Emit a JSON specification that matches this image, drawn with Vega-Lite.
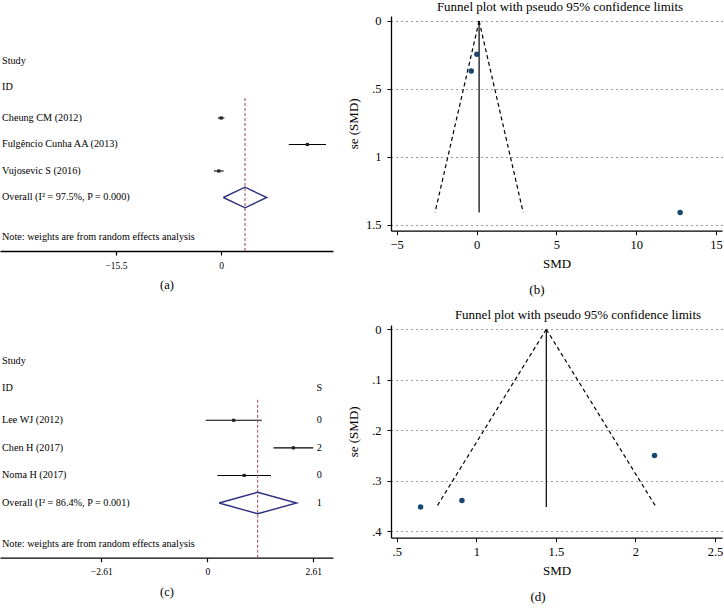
{
  "$schema": "https://vega.github.io/schema/vega-lite/v6.json",
  "background": "white",
  "padding": {"left": 0, "top": 0, "right": 0, "bottom": 0},
  "config": {
    "view": {"stroke": null},
    "font": "Liberation Serif",
    "axis": {"labelColor": "#000", "titleColor": "#000", "domainColor": "#000", "tickColor": "#000", "titleFontWeight": "normal", "labelFlush": false, "labelOverlap": false, "grid": false}
  },
  "datasets": {
    "forestA": [
      {"study": "Cheung CM (2012)", "row": 1, "es": 0.02, "lo": -0.46, "hi": 0.5, "se": 0.245},
      {"study": "Fulgêncio Cunha AA (2013)", "row": 2, "es": 12.75, "lo": 10.0, "hi": 15.5, "se": 1.41},
      {"study": "Vujosevic S (2016)", "row": 3, "es": -0.33, "lo": -1.05, "hi": 0.39, "se": 0.368},
      {"study": "Overall  (I² = 97.5%, P = 0.000)", "row": 4, "es": 3.54, "lo": 0.34, "hi": 6.75}
    ],
    "headA": [
      {"label": "Study", "row": -1.15},
      {"label": "ID", "row": -0.17},
      {"label": "Note: weights are from random effects analysis", "row": 5.5}
    ],
    "diamondA": [
      {"x": 0.34, "row": 4, "k": 0},
      {"x": 3.54, "row": 3.61, "k": 1},
      {"x": 6.75, "row": 4, "k": 2},
      {"x": 3.54, "row": 4.39, "k": 3},
      {"x": 0.34, "row": 4, "k": 4}
    ],
    "funnelB": [
      {"side": "lower", "smd": 0.16, "se": 0},
      {"side": "lower", "smd": -2.6, "se": 1.41},
      {"side": "upper", "smd": 0.16, "se": 0},
      {"side": "upper", "smd": 2.92, "se": 1.41}
    ],
    "centerB": [{"smd": 0.16, "se0": 0, "se1": 1.41}],
    "forestC": [
      {"study": "Lee WJ (2012)", "row": 1, "es": 0.65, "lo": -0.04, "hi": 1.34, "se": 0.352, "S": "0"},
      {"study": "Chen H (2017)", "row": 2, "es": 2.12, "lo": 1.63, "hi": 2.61, "se": 0.25, "S": "2"},
      {"study": "Noma H (2017)", "row": 3, "es": 0.91, "lo": 0.25, "hi": 1.57, "se": 0.339, "S": "0"},
      {"study": "Overall  (I² = 86.4%, P = 0.001)", "row": 4, "es": 1.24, "lo": 0.29, "hi": 2.2, "S": "1"}
    ],
    "headC": [
      {"label": "Study", "row": -1.15},
      {"label": "ID", "row": -0.17, "S": "S"},
      {"label": "Note: weights are from random effects analysis", "row": 5.5}
    ],
    "diamondC": [
      {"x": 0.29, "row": 4, "k": 0},
      {"x": 1.24, "row": 3.61, "k": 1},
      {"x": 2.2, "row": 4, "k": 2},
      {"x": 1.24, "row": 4.39, "k": 3},
      {"x": 0.29, "row": 4, "k": 4}
    ],
    "funnelD": [
      {"side": "lower", "smd": 1.44, "se": 0},
      {"side": "lower", "smd": 0.75, "se": 0.352},
      {"side": "upper", "smd": 1.44, "se": 0},
      {"side": "upper", "smd": 2.13, "se": 0.352}
    ],
    "centerD": [{"smd": 1.44, "se0": 0, "se1": 0.352}]
  },
  "columns": 2,
  "bounds": "flush",
  "align": "each",
  "spacing": {"row": 74, "column": 58},
  "concat": [
    {
      "width": 333,
      "height": 235,
      "layer": [
        {
          "data": {"name": "forestA"},
          "transform": [{"filter": "datum.row < 4"}],
          "mark": {"type": "rule", "color": "#000", "strokeWidth": 1.1},
          "encoding": {
            "x": {"field": "lo", "type": "quantitative", "scale": {"domain": [-32.62, 16.53], "nice": false, "zero": false},
              "axis": {"values": [-15.5, 0], "labelExpr": "datum.value == 0 ? '0' : format(datum.value, '.1f')", "title": "(a)", "tickSize": 4, "domainWidth": 1.3, "tickWidth": 1.2, "labelFontSize": 9.5, "labelPadding": 5, "titleFontSize": 12.5, "titlePadding": 9}},
            "x2": {"field": "hi"},
            "y": {"field": "row", "type": "quantitative", "scale": {"domain": [-2.849, 6.019], "reverse": true, "nice": false, "zero": false}, "axis": null}
          }
        },
        {"mark": {"type": "rule", "color": "#000", "strokeWidth": 1.3}, "encoding": {"y": {"datum": 0.25, "axis": null}}},
        {"mark": {"type": "rule", "color": "#555", "strokeWidth": 1.6}, "encoding": {"x": {"datum": 0}, "y": {"datum": 0.25, "axis": null}, "y2": {"datum": 6.019}}},
        {
          "data": {"name": "forestA"},
          "transform": [{"filter": "datum.row == 4"}],
          "mark": {"type": "rule", "color": "#a5566e", "strokeDash": [3, 2], "strokeWidth": 1.1},
          "encoding": {"x": {"field": "es", "type": "quantitative"}, "y": {"datum": 0.25, "axis": null}, "y2": {"datum": 6.019}}
        },
        {
          "data": {"name": "diamondA"},
          "mark": {"type": "line", "color": "#2e2f7e", "strokeWidth": 1.4},
          "encoding": {"x": {"field": "x", "type": "quantitative"}, "y": {"field": "row", "type": "quantitative", "axis": null}, "order": {"field": "k"}}
        },
        {
          "data": {"name": "forestA"},
          "transform": [{"filter": "datum.row < 4"}],
          "mark": {"type": "point", "shape": "square", "filled": true, "size": 10, "color": "#222", "opacity": 1},
          "encoding": {"x": {"field": "es", "type": "quantitative"}, "y": {"field": "row", "type": "quantitative", "axis": null}}
        },
        {
          "data": {"name": "forestA"},
          "mark": {"type": "text", "align": "left", "baseline": "middle", "fontSize": 10.2, "dx": 2, "color": "#000"},
          "encoding": {"x": {"datum": -32.62}, "y": {"field": "row", "type": "quantitative", "axis": null}, "text": {"field": "study"}}
        },
        {
          "data": {"name": "headA"},
          "mark": {"type": "text", "align": "left", "baseline": "middle", "fontSize": 10.2, "dx": 2, "color": "#000"},
          "encoding": {"x": {"datum": -32.62}, "y": {"field": "row", "type": "quantitative", "axis": null}, "text": {"field": "label"}}
        }
      ]
    },
    {
      "width": 331,
      "height": 214.7,
      "title": {"text": "Funnel plot with pseudo 95% confidence limits", "fontSize": 13, "fontWeight": "normal", "baseline": "alphabetic", "offset": -9, "dx": 3.5, "anchor": "middle", "frame": "group", "color": "#000"},
      "layer": [
        {
          "data": {"name": "funnelB"},
          "mark": {"type": "line", "color": "#000", "strokeDash": [4, 3], "strokeWidth": 1.2},
          "encoding": {
            "x": {"field": "smd", "type": "quantitative", "scale": {"domain": [-5.357, 15.37], "nice": false, "zero": false},
              "axis": {"values": [-5, 0, 5, 10, 15], "labelExpr": "datum.value > 0 && datum.value < 1 ? replace(format(datum.value, '~g'), '0.', '.') : format(datum.value, '~g')", "title": "SMD", "tickSize": 4, "labelPadding": 4, "labelFontSize": 12.5, "titleFontSize": 13, "titlePadding": 6, "domainWidth": 1.3}},
            "y": {"field": "se", "type": "quantitative", "scale": {"domain": [-0.0368, 1.5442], "reverse": true, "nice": false, "zero": false},
              "axis": {"values": [0, 0.5, 1, 1.5], "labelExpr": "datum.value > 0 && datum.value < 1 ? replace(format(datum.value, '~g'), '0.', '.') : format(datum.value, '~g')", "title": "se (SMD)", "grid": true, "gridDash": [1, 4], "gridColor": "#333", "gridWidth": 1, "tickSize": 4, "labelPadding": 6, "labelFontSize": 12.5, "titleFontSize": 13, "titleX": -31, "titleY": 107.35, "domainWidth": 1.3}},
            "detail": {"field": "side"},
            "order": {"field": "se"}
          }
        },
        {
          "data": {"name": "centerB"},
          "mark": {"type": "rule", "color": "#000", "strokeWidth": 1.2},
          "encoding": {"x": {"field": "smd", "type": "quantitative"}, "y": {"field": "se0", "type": "quantitative"}, "y2": {"field": "se1"}}
        },
        {
          "data": {"name": "forestA"},
          "transform": [{"filter": "datum.row < 4"}],
          "mark": {"type": "circle", "color": "#1a476f", "size": 30, "opacity": 1},
          "encoding": {"x": {"field": "es", "type": "quantitative"}, "y": {"field": "se", "type": "quantitative"}}
        },
        {
          "data": {"values": [{"caption": "(b)"}]},
          "mark": {"type": "text", "fontSize": 13, "baseline": "middle", "color": "#000"},
          "encoding": {"x": {"datum": 3.78}, "y": {"datum": 1.981}, "text": {"field": "caption"}}
        }
      ]
    },
    {
      "width": 333,
      "height": 232.7,
      "layer": [
        {
          "data": {"name": "forestC"},
          "transform": [{"filter": "datum.row < 4"}],
          "mark": {"type": "rule", "color": "#000", "strokeWidth": 1.1},
          "encoding": {
            "x": {"field": "lo", "type": "quantitative", "scale": {"domain": [-5.106, 3.096], "nice": false, "zero": false},
              "axis": {"values": [-2.61, 0, 2.61], "labelExpr": "datum.value == 0 ? '0' : format(datum.value, '.2f')", "title": "(c)", "tickSize": 4, "domainWidth": 1.3, "tickWidth": 1.2, "labelFontSize": 9.5, "labelPadding": 5, "titleFontSize": 12.5, "titlePadding": 9}},
            "x2": {"field": "hi"},
            "y": {"field": "row", "type": "quantitative", "scale": {"domain": [-2.457, 5.984], "reverse": true, "nice": false, "zero": false}, "axis": null}
          }
        },
        {"mark": {"type": "rule", "color": "#000", "strokeWidth": 1.3}, "encoding": {"y": {"datum": 0.25, "axis": null}}},
        {"mark": {"type": "rule", "color": "#555", "strokeWidth": 1.6}, "encoding": {"x": {"datum": 0}, "y": {"datum": 0.25, "axis": null}, "y2": {"datum": 5.984}}},
        {
          "data": {"name": "forestC"},
          "transform": [{"filter": "datum.row == 4"}],
          "mark": {"type": "rule", "color": "#a5566e", "strokeDash": [3, 2], "strokeWidth": 1.1},
          "encoding": {"x": {"field": "es", "type": "quantitative"}, "y": {"datum": 0.25, "axis": null}, "y2": {"datum": 5.984}}
        },
        {
          "data": {"name": "diamondC"},
          "mark": {"type": "line", "color": "#2e2f7e", "strokeWidth": 1.4},
          "encoding": {"x": {"field": "x", "type": "quantitative"}, "y": {"field": "row", "type": "quantitative", "axis": null}, "order": {"field": "k"}}
        },
        {
          "data": {"name": "forestC"},
          "transform": [{"filter": "datum.row < 4"}],
          "mark": {"type": "point", "shape": "square", "filled": true, "size": 10, "color": "#222", "opacity": 1},
          "encoding": {"x": {"field": "es", "type": "quantitative"}, "y": {"field": "row", "type": "quantitative", "axis": null}}
        },
        {
          "data": {"name": "forestC"},
          "mark": {"type": "text", "align": "left", "baseline": "middle", "fontSize": 10.2, "dx": 2, "color": "#000"},
          "encoding": {"x": {"datum": -5.106}, "y": {"field": "row", "type": "quantitative", "axis": null}, "text": {"field": "study"}}
        },
        {
          "data": {"name": "headC"},
          "mark": {"type": "text", "align": "left", "baseline": "middle", "fontSize": 10.2, "dx": 2, "color": "#000"},
          "encoding": {"x": {"datum": -5.106}, "y": {"field": "row", "type": "quantitative", "axis": null}, "text": {"field": "label"}}
        },
        {
          "data": {"name": "forestC"},
          "mark": {"type": "text", "align": "center", "baseline": "middle", "fontSize": 10.2, "color": "#000"},
          "encoding": {"x": {"datum": 2.76}, "y": {"field": "row", "type": "quantitative", "axis": null}, "text": {"field": "S"}}
        },
        {
          "data": {"name": "headC"},
          "transform": [{"filter": "isValid(datum.S)"}],
          "mark": {"type": "text", "align": "center", "baseline": "middle", "fontSize": 10.2, "color": "#000"},
          "encoding": {"x": {"datum": 2.76}, "y": {"field": "row", "type": "quantitative", "axis": null}, "text": {"field": "S"}}
        }
      ]
    },
    {
      "width": 331,
      "height": 212.7,
      "title": {"text": "Funnel plot with pseudo 95% confidence limits", "fontSize": 13, "fontWeight": "normal", "baseline": "alphabetic", "offset": -9, "dx": 21.5, "anchor": "middle", "frame": "group", "color": "#000"},
      "layer": [
        {
          "data": {"name": "funnelD"},
          "mark": {"type": "line", "color": "#000", "strokeDash": [4, 3], "strokeWidth": 1.2},
          "encoding": {
            "x": {"field": "smd", "type": "quantitative", "scale": {"domain": [0.4642, 2.544], "nice": false, "zero": false},
              "axis": {"values": [0.5, 1, 1.5, 2, 2.5], "labelExpr": "datum.value > 0 && datum.value < 1 ? replace(format(datum.value, '~g'), '0.', '.') : format(datum.value, '~g')", "title": "SMD", "tickSize": 4, "labelPadding": 4, "labelFontSize": 12.5, "titleFontSize": 13, "titlePadding": 6, "domainWidth": 1.3}},
            "y": {"field": "se", "type": "quantitative", "scale": {"domain": [-0.0085, 0.4127], "reverse": true, "nice": false, "zero": false},
              "axis": {"values": [0, 0.1, 0.2, 0.3, 0.4], "labelExpr": "datum.value > 0 && datum.value < 1 ? replace(format(datum.value, '~g'), '0.', '.') : format(datum.value, '~g')", "title": "se (SMD)", "grid": true, "gridDash": [1, 4], "gridColor": "#333", "gridWidth": 1, "tickSize": 4, "labelPadding": 6, "labelFontSize": 12.5, "titleFontSize": 13, "titleX": -31, "titleY": 106.35, "domainWidth": 1.3}},
            "detail": {"field": "side"},
            "order": {"field": "se"}
          }
        },
        {
          "data": {"name": "centerD"},
          "mark": {"type": "rule", "color": "#000", "strokeWidth": 1.2},
          "encoding": {"x": {"field": "smd", "type": "quantitative"}, "y": {"field": "se0", "type": "quantitative"}, "y2": {"field": "se1"}}
        },
        {
          "data": {"name": "forestC"},
          "transform": [{"filter": "datum.row < 4"}],
          "mark": {"type": "circle", "color": "#1a476f", "size": 30, "opacity": 1},
          "encoding": {"x": {"field": "es", "type": "quantitative"}, "y": {"field": "se", "type": "quantitative"}}
        },
        {
          "data": {"values": [{"caption": "(d)"}]},
          "mark": {"type": "text", "fontSize": 13, "baseline": "middle", "color": "#000"},
          "encoding": {"x": {"datum": 1.388}, "y": {"datum": 0.53}, "text": {"field": "caption"}}
        }
      ]
    }
  ]
}
